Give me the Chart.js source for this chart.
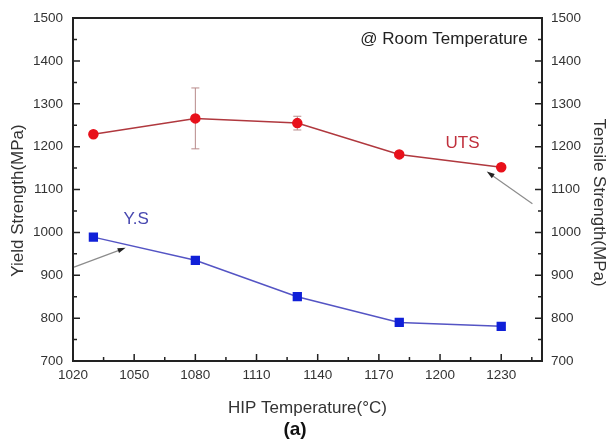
<!DOCTYPE html>
<html>
<head>
<meta charset="utf-8">
<script src="https://cdn.jsdelivr.net/npm/chart.js@4.4.0/dist/chart.umd.min.js"></script>
<style>
  html, body { margin: 0; padding: 0; background: #fff; }
  #wrap { width: 612px; height: 441px; position: relative; }
</style>
</head>
<body>
<div id="wrap"><canvas id="hipChart"></canvas></div>
<script>
// HIP temperatures (°C)
const hipTemps = [1030, 1080, 1130, 1180, 1230];
// Ultimate tensile strength (MPa) with error bars
const utsValues = [1229, 1266, 1255, 1182, 1152];
const utsErrors = [0, 71, 16, 0, 0];
// Yield strength (MPa)
const ysValues = [989, 935, 850, 790, 781];

// Tick labels
const xTickValues = [1020, 1050, 1080, 1110, 1140, 1170, 1200, 1230];
const xMinorTicks = [1035, 1065, 1095, 1125, 1155, 1185, 1215, 1245];
const yTickValues = [700, 800, 900, 1000, 1100, 1200, 1300, 1400, 1500];
const yMinorTicks = [750, 850, 950, 1050, 1150, 1250, 1350, 1450];

const FONT = "'Liberation Sans', Arial, sans-serif";
const AXIS_COLOR = '#222';
const TEXT_COLOR = '#333';

// Text notes and arrows, placed in data units
const notes = [
  { text: '@ Room Temperature', x: 1243, y: 1450, color: '#222', align: 'right' },
  { text: 'UTS', x: 1211, y: 1208, color: '#c0303c', align: 'center' },
  { text: 'Y.S', x: 1051, y: 1030, color: '#4848b0', align: 'center' }
];
const arrows = [
  { from: [1020.5, 919], to: [1045.8, 964] },
  { from: [1245.3, 1067], to: [1222.9, 1142] }
];

const toPoints = (vals) => hipTemps.map((t, i) => ({ x: t, y: vals[i] }));

// Draws the frame, inward ticks, error bars, notes and y titles
const decorPlugin = {
  id: 'decor',
  beforeDatasetsDraw(chart) {
    const { ctx } = chart;
    const xs = chart.scales.x, ys = chart.scales.y;
    ctx.save();
    ctx.strokeStyle = '#b88a8a';
    ctx.lineWidth = 1;
    hipTemps.forEach((t, i) => {
      const e = utsErrors[i];
      if (!e) return;
      const px = xs.getPixelForValue(t);
      const top = ys.getPixelForValue(utsValues[i] + e);
      const bot = ys.getPixelForValue(utsValues[i] - e);
      ctx.beginPath();
      ctx.moveTo(px, top); ctx.lineTo(px, bot);
      ctx.moveTo(px - 4, top); ctx.lineTo(px + 4, top);
      ctx.moveTo(px - 4, bot); ctx.lineTo(px + 4, bot);
      ctx.stroke();
    });
    ctx.restore();
  },
  afterDraw(chart) {
    const { ctx, chartArea: a } = chart;
    const xs = chart.scales.x, ys = chart.scales.y;
    ctx.save();

    // top border
    ctx.strokeStyle = AXIS_COLOR;
    ctx.lineWidth = 2;
    ctx.beginPath();
    ctx.moveTo(a.left - 1, a.top);
    ctx.lineTo(a.right + 1, a.top);
    ctx.stroke();

    // inward ticks
    ctx.lineWidth = 1.5;
    ctx.beginPath();
    const yTick = (v, len) => {
      const py = ys.getPixelForValue(v);
      ctx.moveTo(a.left, py); ctx.lineTo(a.left + len, py);
      ctx.moveTo(a.right, py); ctx.lineTo(a.right - len, py);
    };
    yTickValues.forEach(v => yTick(v, 7));
    yMinorTicks.forEach(v => yTick(v, 4));
    const xTick = (v, len) => {
      const px = xs.getPixelForValue(v);
      ctx.moveTo(px, a.bottom); ctx.lineTo(px, a.bottom - len);
    };
    xTickValues.forEach(v => xTick(v, 7));
    xMinorTicks.forEach(v => xTick(v, 4));
    ctx.stroke();

    // arrows
    arrows.forEach(ar => {
      const x1 = xs.getPixelForValue(ar.from[0]), y1 = ys.getPixelForValue(ar.from[1]);
      const x2 = xs.getPixelForValue(ar.to[0]), y2 = ys.getPixelForValue(ar.to[1]);
      const ang = Math.atan2(y2 - y1, x2 - x1);
      ctx.strokeStyle = '#8c8c8c';
      ctx.lineWidth = 1.2;
      ctx.beginPath();
      ctx.moveTo(x1, y1);
      ctx.lineTo(x2 - 5 * Math.cos(ang), y2 - 5 * Math.sin(ang));
      ctx.stroke();
      ctx.fillStyle = '#222';
      ctx.beginPath();
      ctx.moveTo(x2, y2);
      ctx.lineTo(x2 - 8 * Math.cos(ang) + 2.6 * Math.sin(ang), y2 - 8 * Math.sin(ang) - 2.6 * Math.cos(ang));
      ctx.lineTo(x2 - 8 * Math.cos(ang) - 2.6 * Math.sin(ang), y2 - 8 * Math.sin(ang) + 2.6 * Math.cos(ang));
      ctx.closePath();
      ctx.fill();
    });

    // notes
    ctx.font = `17px ${FONT}`;
    ctx.textBaseline = 'middle';
    notes.forEach(n => {
      ctx.fillStyle = n.color;
      ctx.textAlign = n.align;
      ctx.fillText(n.text, xs.getPixelForValue(n.x), ys.getPixelForValue(n.y));
    });

    // y axis titles
    const midY = (a.top + a.bottom) / 2;
    ctx.fillStyle = TEXT_COLOR;
    ctx.textAlign = 'center';
    ctx.save();
    ctx.translate(18, midY + 11);
    ctx.rotate(-Math.PI / 2);
    ctx.fillText('Yield Strength(MPa)', 0, 0);
    ctx.restore();
    ctx.save();
    ctx.translate(599, midY + 13);
    ctx.rotate(Math.PI / 2);
    ctx.fillText('Tensile Strength(MPa)', 0, 0);
    ctx.restore();

    // panel label
    ctx.font = `bold 19px ${FONT}`;
    ctx.fillStyle = '#111';
    ctx.fillText('(a)', 295, 430);

    ctx.restore();
  }
};

const yAxis = (position, padding, width) => ({
  type: 'linear',
  position: position,
  min: 700,
  max: 1500,
  afterBuildTicks: (scale) => { scale.ticks = yTickValues.map(v => ({ value: v })); },
  afterFit: (scale) => { scale.width = width; },
  grid: { display: false, drawTicks: false },
  border: { display: true, color: AXIS_COLOR, width: 2 },
  ticks: {
    padding: padding,
    color: TEXT_COLOR,
    font: { family: FONT, size: 13.5 },
    callback: (v) => String(v)
  },
  title: { display: false }
});

new Chart(document.getElementById('hipChart'), {
  type: 'line',
  data: {
    datasets: [
      {
        label: 'UTS',
        data: toPoints(utsValues),
        borderColor: '#b0383e',
        borderWidth: 1.5,
        pointStyle: 'circle',
        pointRadius: 4.5,
        pointBackgroundColor: '#e8101a',
        pointBorderColor: '#e8101a',
        yAxisID: 'y'
      },
      {
        label: 'Y.S',
        data: toPoints(ysValues),
        borderColor: '#5454c4',
        borderWidth: 1.5,
        pointStyle: 'rect',
        pointRadius: 5.5,
        pointBackgroundColor: '#1020d8',
        pointBorderColor: '#1020d8',
        yAxisID: 'y'
      }
    ]
  },
  options: {
    responsive: true,
    maintainAspectRatio: false,
    animation: false,
    devicePixelRatio: 1,
    layout: { padding: { top: 17, left: 0, right: 0, bottom: 0 } },
    plugins: {
      legend: { display: false },
      tooltip: { enabled: false },
      title: { display: false }
    },
    scales: {
      x: {
        type: 'linear',
        min: 1020,
        max: 1250,
        afterBuildTicks: (scale) => { scale.ticks = xTickValues.map(v => ({ value: v })); },
        afterFit: (scale) => { scale.height = 80; },
        grid: { display: false, drawTicks: false },
        border: { display: true, color: AXIS_COLOR, width: 2 },
        ticks: {
          padding: 6,
          color: TEXT_COLOR,
          font: { family: FONT, size: 13.5 },
          maxRotation: 0,
          callback: (v) => String(v)
        },
        title: {
          display: true,
          text: 'HIP Temperature(°C)',
          color: TEXT_COLOR,
          font: { family: FONT, size: 17 },
          padding: { top: 0, bottom: 22.8 }
        }
      },
      y: yAxis('left', 10, 73),
      y2: yAxis('right', 9, 70)
    }
  },
  plugins: [decorPlugin]
});
</script>
</body>
</html>
